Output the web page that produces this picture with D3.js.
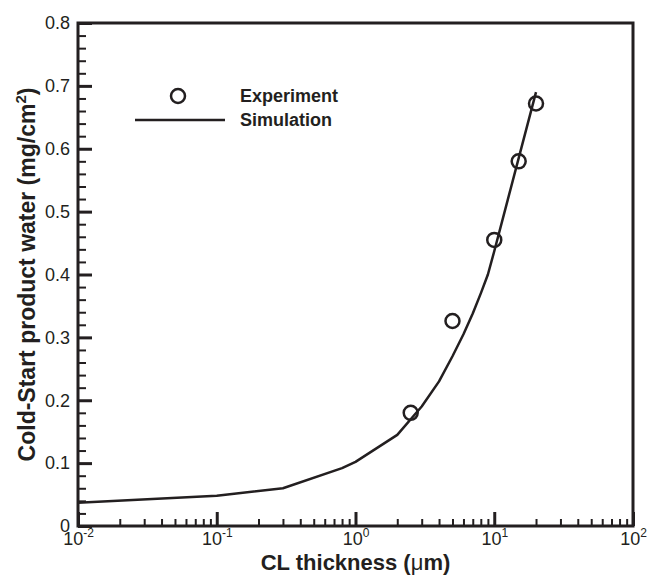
<!DOCTYPE html>
<html><head><meta charset="utf-8">
<script src="https://cdn.jsdelivr.net/npm/d3@7"></script>
<style>body{margin:0;background:#fff}svg{display:block}text{font-family:"Liberation Sans",Arial,Helvetica,sans-serif;fill:#231f20}</style>
</head><body>
<svg id="c" width="649" height="576"></svg>
<script>
const simX = [0.01, 0.1, 0.3, 0.8, 1, 2, 3, 4, 5, 6, 7, 8, 9, 10, 15, 20];
const simY = [0.037, 0.048, 0.06, 0.092, 0.102, 0.145, 0.19, 0.23, 0.27, 0.305, 0.338, 0.37, 0.40, 0.437, 0.585, 0.69];
const expX = [2.5, 5, 10, 15, 20];
const expY = [0.18, 0.326, 0.455, 0.58, 0.672];
const xMajor = [0.01, 0.1, 1, 10, 100];
const xMajorExp = ["-2", "-1", "0", "1", "2"];
const yMajor = [0, 0.1, 0.2, 0.3, 0.4, 0.5, 0.6, 0.7, 0.8];
const yMajorLabels = ["0", "0.1", "0.2", "0.3", "0.4", "0.5", "0.6", "0.7", "0.8"];
const legendLabels = ["Experiment", "Simulation"];

const L = 78, R = 633, T = 23, B = 526;
const svg = d3.select("#c");
const x = d3.scaleLog().domain([0.01, 100]).range([L, R]);
const y = d3.scaleLinear().domain([0, 0.8]).range([B, T]);
const ink = "#231f20";

const xMinor = [];
[0.01, 0.1, 1, 10].forEach(d => { for (let k = 2; k <= 9; k++) xMinor.push(d * k); });
const yMinor = d3.range(0, 41).map(i => i * 0.02).filter(v => Math.abs(v * 10 - Math.round(v * 10)) > 1e-6);

function styleAxis(g) {
  g.select(".domain").remove();
  g.selectAll("line").attr("stroke", ink).attr("stroke-width", 2);
}

svg.append("g").attr("transform", `translate(0,${B})`)
  .call(d3.axisBottom(x).tickValues(xMinor).tickSize(-7).tickFormat(""))
  .call(styleAxis);
const gx = svg.append("g").attr("transform", `translate(0,${B})`)
  .call(d3.axisBottom(x).tickValues(xMajor).tickSize(-14).tickPadding(9).tickFormat(""))
  .call(styleAxis);
gx.selectAll(".tick line").attr("stroke-width", 3);
gx.selectAll(".tick").each(function(d, i) {
  const t = d3.select(this).append("text").attr("y", 19).attr("text-anchor", "middle")
    .attr("font-size", 18).attr("fill", ink).attr("x", 0);
  t.append("tspan").text("10");
  t.append("tspan").attr("dy", -8).attr("font-size", 12).text(xMajorExp[i]);
});

svg.append("g").attr("transform", `translate(${L},0)`)
  .call(d3.axisLeft(y).tickValues(yMinor).tickSize(-8).tickFormat(""))
  .call(styleAxis);
const gy = svg.append("g").attr("transform", `translate(${L},0)`)
  .call(d3.axisLeft(y).tickValues(yMajor).tickSize(-14).tickPadding(8).tickFormat((d, i) => yMajorLabels[i]))
  .call(styleAxis);
gy.selectAll(".tick line").attr("stroke-width", 3);
gy.selectAll("text").attr("font-size", 18).attr("fill", ink).attr("font-family", '"Liberation Sans",Arial,sans-serif');

svg.append("rect").attr("x", L).attr("y", T).attr("width", R - L).attr("height", B - T)
  .attr("fill", "none").attr("stroke", ink).attr("stroke-width", 3);

const simData = simX.map((v, i) => [v, simY[i]]);
svg.append("path").datum(simData)
  .attr("d", d3.line().x(d => x(d[0])).y(d => y(d[1])))
  .attr("fill", "none").attr("stroke", ink).attr("stroke-width", 2.5).attr("stroke-linejoin", "round");

const expData = expX.map((v, i) => [v, expY[i]]);
svg.append("g").selectAll("circle").data(expData).join("circle")
  .attr("cx", d => x(d[0])).attr("cy", d => y(d[1])).attr("r", 7)
  .attr("fill", "none").attr("stroke", ink).attr("stroke-width", 2.5);

svg.append("circle").attr("cx", 178).attr("cy", 96).attr("r", 7)
  .attr("fill", "none").attr("stroke", ink).attr("stroke-width", 2.5);
svg.append("line").attr("x1", 135).attr("x2", 225).attr("y1", 120).attr("y2", 120)
  .attr("stroke", ink).attr("stroke-width", 2.5);
svg.append("text").attr("x", 240).attr("y", 102).attr("font-size", 18).attr("font-weight", "bold").text(legendLabels[0]);
svg.append("text").attr("x", 240).attr("y", 126).attr("font-size", 18).attr("font-weight", "bold").text(legendLabels[1]);

const xt = svg.append("text").attr("x", (L + R) / 2).attr("y", 570).attr("text-anchor", "middle")
  .attr("font-size", 22).attr("font-weight", "bold");
xt.append("tspan").text("CL thickness (");
xt.append("tspan").attr("font-weight", "normal").text("μ");
xt.append("tspan").text("m)");

const yt = svg.append("text").attr("transform", `translate(35,${(T + B) / 2}) rotate(-90)`)
  .attr("text-anchor", "middle").attr("font-size", 23).attr("font-weight", "bold");
yt.append("tspan").text("Cold-Start product water (mg/cm");
yt.append("tspan").attr("dy", -9).attr("font-size", 15).text("2");
yt.append("tspan").attr("dy", 9).text(")");
</script>
</body></html>
